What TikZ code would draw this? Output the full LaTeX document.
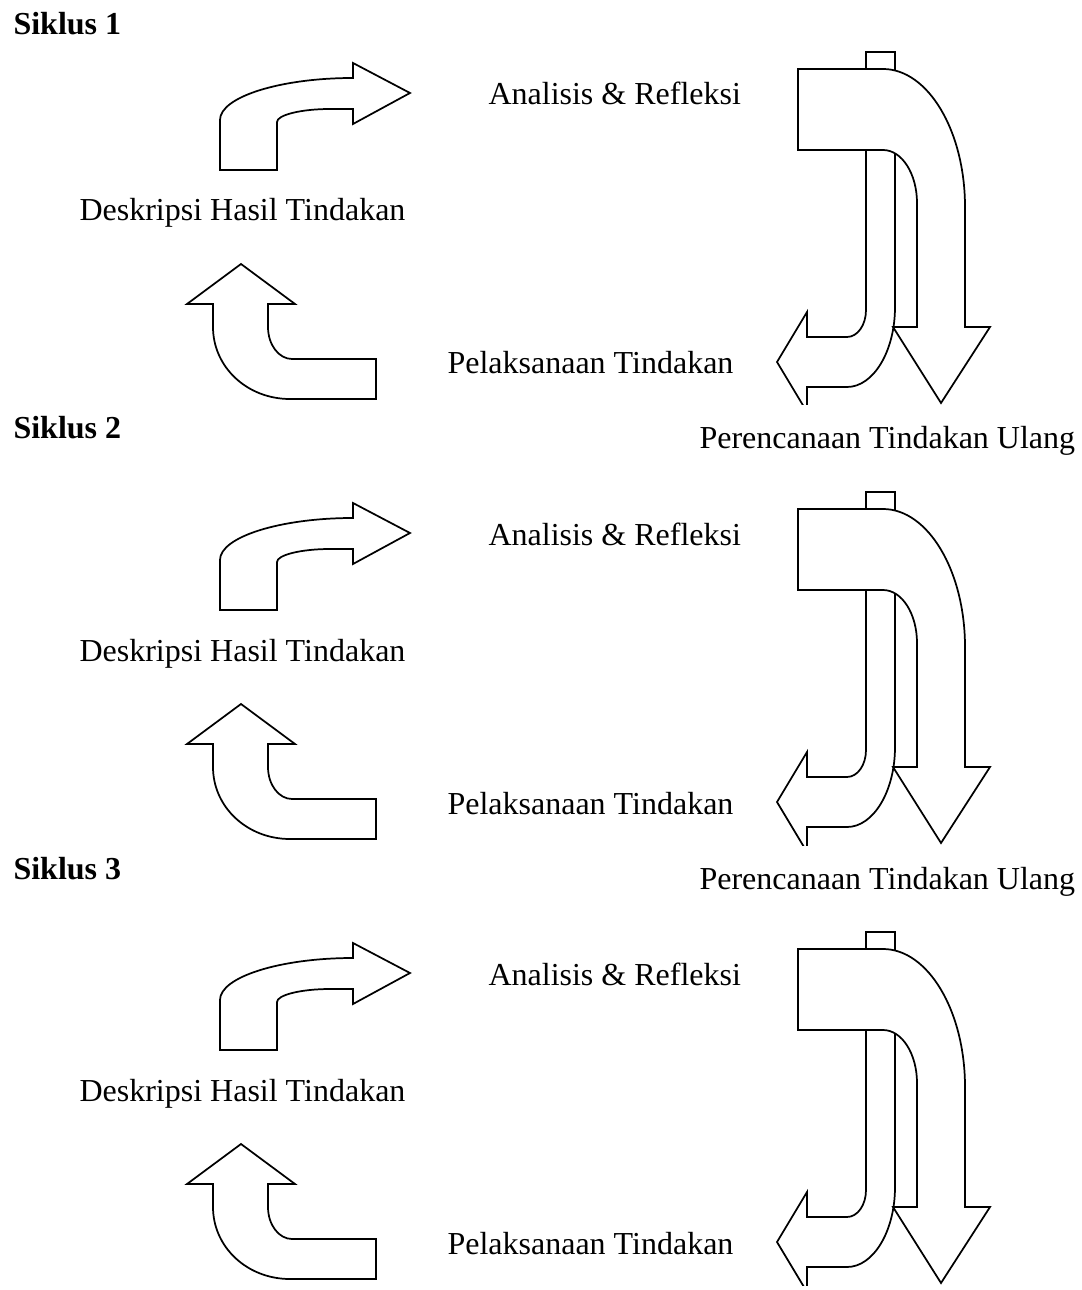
\documentclass[tikz,border=0pt]{standalone}
\usepackage{fontspec}
\setmainfont{Liberation Serif}
\begin{document}
\begin{tikzpicture}[x=0.375pt,y=-0.375pt,
  arr/.style={draw=black,fill=white,line width=0.65pt,line join=miter},
  lbl/.style={anchor=base west,inner sep=0pt,font=\fontsize{12}{14}\selectfont},
  ttl/.style={anchor=base west,inner sep=0pt,font=\fontsize{12}{14}\selectfont\bfseries}]
\useasboundingbox (0,0) rectangle (1081,1290);
\node[ttl] (sik1) at (13,35) {Siklus 1};
\node[ttl] (sik2) at (13,439) {Siklus 2};
\node[ttl] (sik3) at (13,879) {Siklus 3};
\node[lbl] (per1) at (699,449) {Perencanaan Tindakan Ulang};
\node[lbl] (per2) at (699,889) {Perencanaan Tindakan Ulang};
\foreach \k in {0,1,2}{
\begin{scope}[shift={(0,440*\k)}]
  \node[lbl] (ana\k) at (488,105) {Analisis \& Refleksi};
  \node[lbl] (desk\k) at (79,221) {Deskripsi Hasil Tindakan};
  \node[lbl] (pel\k) at (447,374) {Pelaksanaan Tindakan};
  % right-turning up arrow
  \draw[arr] (220,170) -- (220,120) .. controls (220,97) and (280,78) .. (353,78)
     -- (353,63) -- (410,93) -- (353,124) -- (353,109) -- (330,109)
     .. controls (301,109) and (277,115) .. (277,122) -- (277,170) -- cycle;
  % up arrow coming from the right
  \draw[arr] (241,264) -- (295,304) -- (268,304) -- (268,327)
     .. controls (268,345) and (279,359) .. (292,359) -- (376,359) -- (376,399)
     -- (290,399) .. controls (247,399) and (213,367) .. (213,327)
     -- (213,304) -- (187,304) -- cycle;
  \begin{scope}
    \clip (700,0) rectangle (1081,405);
    % left-turning arrow (behind)
    \draw[arr] (866,52) -- (895,52) -- (895,307)
       .. controls (895,351) and (873.5,387) .. (847,387) -- (807,387)
       -- (807,412) -- (777,362) -- (807,312) -- (807,337) -- (847,337)
       .. controls (857.5,337) and (866,325) .. (866,310) -- cycle;
    % downward arrow (front)
    \draw[arr] (798,69) -- (883,69) .. controls (928,69) and (965,131) .. (965,207)
       -- (965,327) -- (990,327) -- (941,403) -- (893,327) -- (917,327)
       -- (917,203) .. controls (917,174) and (902,150) .. (883,150)
       -- (798,150) -- cycle;
  \end{scope}
\end{scope}
}
\end{tikzpicture}
\end{document}
